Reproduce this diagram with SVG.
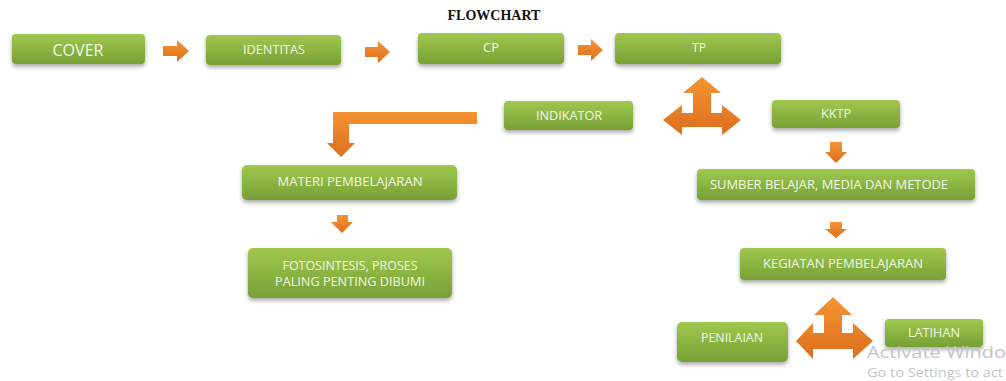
<svg xmlns="http://www.w3.org/2000/svg" width="1006" height="381" viewBox="0 0 1006 381">
<defs>
<linearGradient id="g" x1="0" y1="0" x2="0" y2="1">
<stop offset="0" stop-color="#a0c850"/>
<stop offset="1" stop-color="#76a034"/>
</linearGradient>
<linearGradient id="o" x1="0" y1="0" x2="0" y2="1">
<stop offset="0" stop-color="#f59433"/>
<stop offset="1" stop-color="#dd6e1c"/>
</linearGradient>
<filter id="sh" x="-10%" y="-30%" width="120%" height="170%">
<feDropShadow dx="0" dy="2.5" stdDeviation="2" flood-color="#000" flood-opacity="0.35"/>
</filter>
<style>
.box{fill:url(#g);filter:url(#sh)}
.t{font-family:"Open Sans","Liberation Sans",sans-serif;font-size:12.5px;fill:#f3f8e6;text-anchor:middle;dominant-baseline:central}
.arr{fill:url(#o)}
.wm{font-family:"Open Sans","Noto Sans",sans-serif;fill:#c4c4c4}
</style>
</defs>
<rect width="1006" height="381" fill="#fff"/>
<text x="494" y="20" font-family="Liberation Serif,serif" font-weight="bold" font-size="14" text-anchor="middle" fill="#111">FLOWCHART</text>

<g id="cover"><rect class="box" x="12" y="34" width="133" height="30" rx="4"/><text class="t" x="78" y="49" style="font-size:17px" textLength="51" lengthAdjust="spacingAndGlyphs">COVER</text></g>
<g id="identitas"><rect class="box" x="206" y="35" width="135" height="30" rx="4"/><text class="t" x="274" y="49" textLength="62" lengthAdjust="spacingAndGlyphs">IDENTITAS</text></g>
<g id="cp"><rect class="box" x="418" y="33" width="146" height="31" rx="4"/><text class="t" x="491" y="47" textLength="16" lengthAdjust="spacingAndGlyphs">CP</text></g>
<g id="tp"><rect class="box" x="615" y="33" width="166" height="31" rx="4"/><text class="t" x="699" y="47" textLength="14" lengthAdjust="spacingAndGlyphs">TP</text></g>
<g id="indikator"><rect class="box" x="504" y="101" width="129" height="29" rx="4"/><text class="t" x="569" y="115" textLength="66" lengthAdjust="spacingAndGlyphs">INDIKATOR</text></g>
<g id="kktp"><rect class="box" x="772" y="100" width="128" height="28" rx="4"/><text class="t" x="836" y="113" textLength="30" lengthAdjust="spacingAndGlyphs">KKTP</text></g>
<g id="materi"><rect class="box" x="242" y="165" width="215" height="35" rx="5"/><text class="t" x="350" y="181" textLength="145" lengthAdjust="spacingAndGlyphs">MATERI PEMBELAJARAN</text></g>
<g id="fotosintesis"><rect class="box" x="248" y="248" width="204" height="50" rx="5"/><text class="t" x="350" y="265" textLength="135" lengthAdjust="spacingAndGlyphs">FOTOSINTESIS, PROSES</text><text class="t" x="350" y="281" textLength="150" lengthAdjust="spacingAndGlyphs">PALING PENTING DIBUMI</text></g>
<g id="sumber"><rect class="box" x="697" y="169" width="278" height="31" rx="4"/><text class="t" x="829" y="184" textLength="238" lengthAdjust="spacingAndGlyphs">SUMBER BELAJAR, MEDIA DAN METODE</text></g>
<g id="kegiatan"><rect class="box" x="740" y="248" width="206" height="32" rx="4"/><text class="t" x="843" y="263" textLength="160" lengthAdjust="spacingAndGlyphs">KEGIATAN PEMBELAJARAN</text></g>
<g id="penilaian"><rect class="box" x="677" y="322" width="111" height="40" rx="5"/><text class="t" x="732" y="337" textLength="62" lengthAdjust="spacingAndGlyphs">PENILAIAN</text></g>
<g id="latihan"><rect class="box" x="885" y="319" width="98" height="28" rx="4"/><text class="t" x="934" y="332" textLength="52" lengthAdjust="spacingAndGlyphs">LATIHAN</text></g>

<g id="connectors">
<path class="arr" d="M163,46 L177,46 L177,40 L189,51 L177,62 L177,56 L163,56 Z"/>
<path class="arr" d="M365,47 L378,47 L378,41 L390,52 L378,63 L378,57 L365,57 Z"/>
<path class="arr" d="M578,45 L591,45 L591,39 L603,50 L591,61 L591,55 L578,55 Z"/>
<path class="arr" d="M477,112 L477,124 L349,124 L349,143 L355,143 L341,157 L327,143 L333,143 L333,112 Z"/>
<path class="arr" d="M702,77 L721,93 L711,93 L711,113 L722,113 L722,105 L741,120 L722,135 L722,127 L682,127 L682,135 L663,120 L682,105 L682,113 L693,113 L693,93 L683,93 Z"/>
<path class="arr" d="M830,142 L842,142 L842,152 L847,152 L836,163 L825,152 L830,152 Z"/>
<path class="arr" d="M337,215 L348,215 L348,222 L353,222 L342,233 L331,222 L337,222 Z"/>
<path class="arr" d="M830,222 L842,222 L842,229 L847,229 L836,238 L825,229 L830,229 Z"/>
<path class="arr" d="M833,297 L852,315 L842,315 L842,333 L853,333 L853,323 L873,341 L853,359 L853,349 L813,349 L813,359 L796,341 L813,323 L813,333 L824,333 L824,315 L814,315 Z"/>
</g>

<text class="wm" x="867" y="358" font-size="16" textLength="139" lengthAdjust="spacingAndGlyphs">Activate Windo</text>
<text class="wm" x="867" y="377" font-size="12.5" textLength="136" lengthAdjust="spacingAndGlyphs">Go to Settings to act</text>
</svg>
